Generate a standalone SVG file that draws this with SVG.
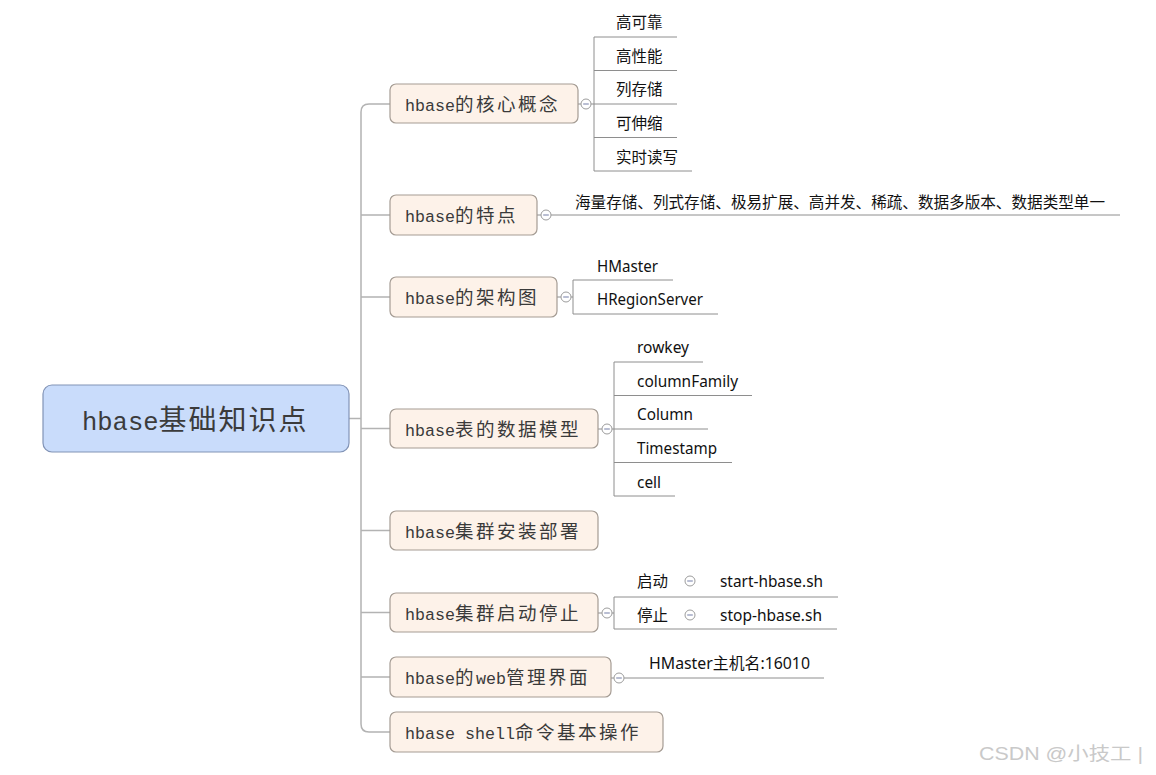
<svg xmlns="http://www.w3.org/2000/svg" width="1156" height="775" viewBox="0 0 1156 775">
<style>
.node{fill:#fdf2e9;stroke:#a59c94;stroke-width:1.2}
.root{fill:#c9dcfb;stroke:#8193b6;stroke-width:1.2}
.lat{font-family:"Liberation Mono",monospace;font-size:16.67px}
.cj{font-family:"Noto Sans CJK SC",sans-serif;font-size:18.5px;letter-spacing:2.5px}
.bt{fill:#3a3a3a}
.rlat{font-family:"Liberation Mono",monospace;font-size:25.5px}
.rcj{font-family:"Noto Sans CJK SC",sans-serif;font-size:28px;letter-spacing:2px}
.ct{font-family:"Noto Sans","Noto Sans CJK SC",sans-serif;font-size:15.5px;fill:#111}
.trunk{fill:none;stroke:#b3b3b3;stroke-width:1.5}
.sub{fill:none;stroke:#8e8e8e;stroke-width:1}
.tog{fill:#fff;stroke:#9c9c9c;stroke-width:1}
.minus{stroke:#8a93b5;stroke-width:1.2}
.wm{font-family:"Liberation Sans","Noto Sans CJK SC",sans-serif;font-size:18px;fill:#c9c9c9}
</style>
<defs>
<g id="toggle"><circle class="tog" r="5"/><line class="minus" x1="-2.8" y1="0" x2="2.8" y2="0"/></g>
</defs>
<rect width="1156" height="775" fill="#fff"/>

<g id="connectors">
<path class="trunk" d="M390 104 H369 Q361 104 361 112 V724 Q361 732 369 732 H390"/>
<path class="trunk" d="M349 418.5 H361 M361 215 H390 M361 297 H390 M361 428.5 H390 M361 530.5 H390 M361 612.5 H390 M361 677 H390"/>
<!-- node 1 children -->
<path class="sub" d="M578 104 H581 M591 104 H594 M594 37 V171 M594 37 H677 M594 70.5 H677 M594 104 H677 M594 137.5 H677 M594 171 H692"/>
<!-- node 2 -->
<path class="sub" d="M537 215 H541 M551 215 H1120"/>
<!-- node 3 -->
<path class="sub" d="M557 297 H561 M571 297 H573 M573 280 V314 M573 280 H673 M573 314 H718"/>
<!-- node 4 -->
<path class="sub" d="M598 429 H602 M612 429 H614 M614 362 V496 M614 362 H703 M614 395.5 H752 M614 429 H708 M614 462.5 H732 M614 496 H675"/>
<!-- node 6 -->
<path class="sub" d="M598 613 H602 M612 613 H614 M614 597 V629 M614 597 H838 M614 629 H837"/>
<!-- node 7 -->
<path class="sub" d="M611 678 H614 M624 678 H824"/>
</g>

<g id="toggles">
<use href="#toggle" x="586" y="104"/>
<use href="#toggle" x="546" y="215"/>
<use href="#toggle" x="566" y="297"/>
<use href="#toggle" x="607" y="429"/>
<use href="#toggle" x="607" y="613"/>
<use href="#toggle" x="619" y="678"/>
<use href="#toggle" x="690" y="581"/>
<use href="#toggle" x="690" y="615"/>
</g>

<g id="root">
<rect class="root" x="43" y="385" width="306" height="67" rx="9"/>
<text x="82" y="430" fill="#3b3b3b"><tspan class="rlat">hbase</tspan><tspan class="rcj">基础知识点</tspan></text>
</g>

<g id="n1">
<rect class="node" x="390" y="84" width="188" height="39" rx="6"/>
<text x="405" y="110.5" class="bt"><tspan class="lat">hbase</tspan><tspan class="cj">的核心概念</tspan></text>
</g>
<g id="n2">
<rect class="node" x="390" y="195" width="147" height="40" rx="6"/>
<text x="405" y="222" class="bt"><tspan class="lat">hbase</tspan><tspan class="cj">的特点</tspan></text>
</g>
<g id="n3">
<rect class="node" x="390" y="277" width="167" height="40" rx="6"/>
<text x="405" y="304" class="bt"><tspan class="lat">hbase</tspan><tspan class="cj">的架构图</tspan></text>
</g>
<g id="n4">
<rect class="node" x="390" y="409" width="208" height="39" rx="6"/>
<text x="405" y="435.5" class="bt"><tspan class="lat">hbase</tspan><tspan class="cj">表的数据模型</tspan></text>
</g>
<g id="n5">
<rect class="node" x="390" y="511" width="208" height="39" rx="6"/>
<text x="405" y="537.5" class="bt"><tspan class="lat">hbase</tspan><tspan class="cj">集群安装部署</tspan></text>
</g>
<g id="n6">
<rect class="node" x="390" y="593" width="208" height="39" rx="6"/>
<text x="405" y="619.5" class="bt"><tspan class="lat">hbase</tspan><tspan class="cj">集群启动停止</tspan></text>
</g>
<g id="n7">
<rect class="node" x="390" y="657" width="221" height="40" rx="6"/>
<text x="405" y="684" class="bt"><tspan class="lat">hbase</tspan><tspan class="cj">的</tspan><tspan class="lat">web</tspan><tspan class="cj">管理界面</tspan></text>
</g>
<g id="n8">
<rect class="node" x="390" y="712" width="273" height="40" rx="6"/>
<text x="405" y="739" class="bt"><tspan class="lat" xml:space="preserve">hbase shell</tspan><tspan class="cj">命令基本操作</tspan></text>
</g>

<g id="c1"><text class="ct" x="616" y="28">高可靠</text></g>
<g id="c2"><text class="ct" x="616" y="62">高性能</text></g>
<g id="c3"><text class="ct" x="616" y="95">列存储</text></g>
<g id="c4"><text class="ct" x="616" y="129">可伸缩</text></g>
<g id="c5"><text class="ct" x="616" y="163">实时读写</text></g>
<g id="c6"><text class="ct" x="575" y="208" textLength="530" lengthAdjust="spacingAndGlyphs">海量存储、列式存储、极易扩展、高并发、稀疏、数据多版本、数据类型单一</text></g>
<g id="c7"><text class="ct" x="597" y="272" textLength="61" lengthAdjust="spacingAndGlyphs">HMaster</text></g>
<g id="c8"><text class="ct" x="597" y="305" textLength="106" lengthAdjust="spacingAndGlyphs">HRegionServer</text></g>
<g id="c9"><text class="ct" x="637" y="353" textLength="52" lengthAdjust="spacingAndGlyphs">rowkey</text></g>
<g id="c10"><text class="ct" x="637" y="387" textLength="101" lengthAdjust="spacingAndGlyphs">columnFamily</text></g>
<g id="c11"><text class="ct" x="637" y="420" textLength="56" lengthAdjust="spacingAndGlyphs">Column</text></g>
<g id="c12"><text class="ct" x="637" y="454" textLength="80" lengthAdjust="spacingAndGlyphs">Timestamp</text></g>
<g id="c13"><text class="ct" x="637" y="488" textLength="24" lengthAdjust="spacingAndGlyphs">cell</text></g>
<g id="c14"><text class="ct" x="637" y="587">启动</text></g>
<g id="c15"><text class="ct" x="720" y="587" textLength="103" lengthAdjust="spacingAndGlyphs">start-hbase.sh</text></g>
<g id="c16"><text class="ct" x="637" y="621">停止</text></g>
<g id="c17"><text class="ct" x="720" y="621" textLength="102" lengthAdjust="spacingAndGlyphs">stop-hbase.sh</text></g>
<g id="c18"><text class="ct" x="649" y="669" textLength="161" lengthAdjust="spacingAndGlyphs">HMaster主机名:16010</text></g>

<text class="wm" x="979" y="760" textLength="164" lengthAdjust="spacingAndGlyphs">CSDN @小技工 |</text>
</svg>
